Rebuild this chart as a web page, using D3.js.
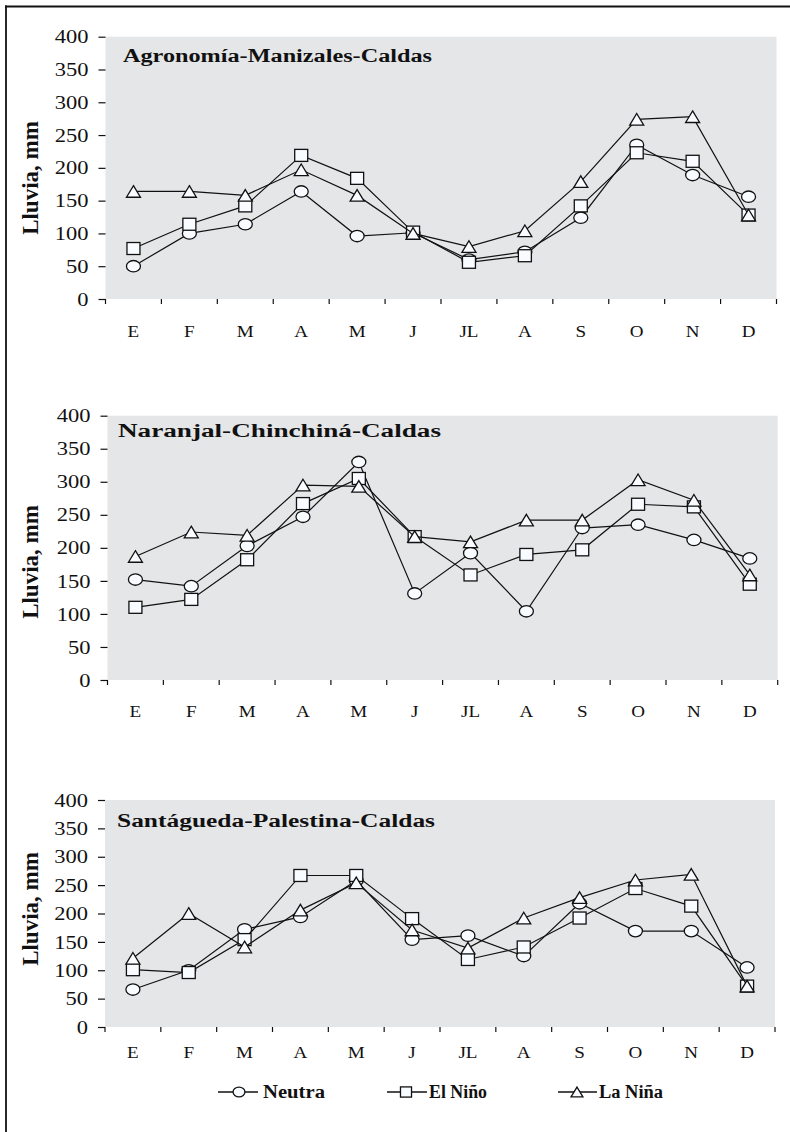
<!DOCTYPE html>
<html><head><meta charset="utf-8">
<script src="https://cdn.jsdelivr.net/npm/d3@7"></script>
<style>
html,body{margin:0;padding:0;background:#fff;}
svg{display:block;}
text{font-family:"Liberation Serif","Times New Roman",serif;fill:#111;}
</style></head>
<body>
<svg id="chart" width="790" height="1132"></svg>
<script>
// ---- data ----
const months = ["E","F","M","A","M","J","JL","A","S","O","N","D"];
const stations = ["Agronomía-Manizales-Caldas","Naranjal-Chinchiná-Caldas","Santágueda-Palestina-Caldas"];
const seriesNames = ["Neutra","El Niño","La Niña"];
const yTicks = [0,50,100,150,200,250,300,350,400];
const yLabel = "Lluvia, mm";

const neutra1 = [50,100,114,164,96,101,60,72,124,235,189,156];
const nino1   = [77,114,142,219,184,102,56,66,142,223,210,128];
const nina1   = [164,164,158,197,158,100,80,104,179,274,278,128];

const neutra2 = [152,142,203,247,330,131,192,104,230,235,212,184];
const nino2   = [110,122,182,267,305,217,159,190,197,266,262,145];
const nina2   = [187,224,219,295,293,217,209,242,242,303,272,159];

const neutra3 = [66,100,172,194,258,154,161,125,218,169,169,105];
const nino3   = [101,96,154,267,267,191,119,141,192,244,213,72];
const nina3   = [121,200,141,206,254,171,139,192,228,259,269,72];

const panelData = [
  [neutra1, nino1, nina1],
  [neutra2, nino2, nina2],
  [neutra3, nino3, nina3]
];

// ---- layout ----
const layout = [
  {x0:105.5, x1:776.5, yTop:36.7, yBot:299, titleX:123, titleY:62, titleW:309, labelY:178, monthDy:38},
  {x0:107.5, x1:777.7, yTop:415.7, yBot:680, titleX:118, titleY:437, titleW:323, labelY:562, monthDy:37},
  {x0:105,   x1:775,   yTop:800,  yBot:1027, titleX:117, titleY:827, titleW:318, labelY:909, monthDy:31}
];

const svg = d3.select("#chart");
const HSTRETCH = 1.22;

function stretch(sel, f){
  sel.each(function(){
    const l = this.getComputedTextLength();
    this.setAttribute("textLength", l*f);
    this.setAttribute("lengthAdjust","spacingAndGlyphs");
  });
}

// border (top + left)
svg.append("line").attr("x1",5).attr("x2",790).attr("y1",6.5).attr("y2",6.5)
  .attr("stroke","#111").attr("stroke-width",1.8);
svg.append("line").attr("x1",6).attr("x2",6).attr("y1",5.6).attr("y2",1132)
  .attr("stroke","#111").attr("stroke-width",1.8);

const markerFill = "#f8fbff";

function drawMarker(g, type, cx, cy, s){
  s = s || 1;
  if(type===0){
    g.append("ellipse").attr("cx",cx).attr("cy",cy).attr("rx",7*s).attr("ry",5.7*s)
      .attr("fill",markerFill).attr("stroke","#111").attr("stroke-width",1.3);
  } else if(type===1){
    g.append("rect").attr("x",cx-6.5*s).attr("y",cy-6*s).attr("width",13*s).attr("height",12*s)
      .attr("fill",markerFill).attr("stroke","#111").attr("stroke-width",1.3);
  } else {
    const w=7*s, h=5.8*s;
    g.append("path").attr("d",`M${cx},${cy-h}L${cx+w},${cy+h}L${cx-w},${cy+h}Z`)
      .attr("fill",markerFill).attr("stroke","#111").attr("stroke-width",1.3).attr("stroke-linejoin","miter");
  }
}

layout.forEach((L, pi) => {
  const g = svg.append("g");
  const x = d3.scaleBand().domain(d3.range(months.length)).range([L.x0, L.x1]);
  const y = d3.scaleLinear().domain([0,400]).range([L.yBot, L.yTop]);

  // plot background
  g.append("rect").attr("x",L.x0).attr("y",y(400)).attr("width",L.x1-L.x0).attr("height",y(0)-y(400))
    .attr("fill","#e5e6e8");

  // y axis
  const ya = g.append("g").attr("transform",`translate(${L.x0},0)`)
    .call(d3.axisLeft(y).tickValues(yTicks).tickSize(7).tickPadding(10).tickSizeOuter(0));
  ya.select(".domain").remove();
  ya.selectAll(".tick line").attr("stroke","#111").attr("stroke-width",1.2);
  ya.selectAll(".tick text").attr("font-size",18).attr("fill","#111")
    .style("font-family",'"Liberation Serif","Times New Roman",serif').attr("dy","0.34em");
  stretch(ya.selectAll(".tick text"), 1.25);

  // x ticks at category boundaries
  const bounds = d3.range(months.length).map(i => x(i)).concat([x.range()[1]]);
  g.selectAll(".xt").data(bounds).enter().append("line")
    .attr("x1",d=>d).attr("x2",d=>d).attr("y1",y(0)).attr("y2",y(0)+5)
    .attr("stroke","#111").attr("stroke-width",1.2);

  // month labels
  const ml = g.selectAll(".ml").data(months).enter().append("text")
    .attr("x",(d,i)=>x(i)+x.bandwidth()/2).attr("y",y(0)+L.monthDy)
    .attr("text-anchor","middle").attr("font-size",17).text(d=>d);
  stretch(ml, 1.12);

  // title
  g.append("text").attr("x",L.titleX).attr("y",L.titleY).attr("font-size",18.6)
    .attr("font-weight","bold").attr("textLength",L.titleW).attr("lengthAdjust","spacingAndGlyphs")
    .text(stations[pi]);

  // y label
  g.append("text").attr("transform",`translate(38,${L.labelY}) rotate(-90)`)
    .attr("text-anchor","middle").attr("font-size",23).attr("font-weight","bold").text(yLabel);

  // series
  const line = d3.line().x((d,i)=>x(i)+x.bandwidth()/2).y(d=>y(d));
  panelData[pi].forEach((vals, si) => {
    const sg = g.append("g");
    sg.append("path").attr("d",line(vals)).attr("fill","none").attr("stroke","#111").attr("stroke-width",1.2);
    vals.forEach((v,i) => drawMarker(sg, si, x(i)+x.bandwidth()/2, y(v)));
  });
});

// legend
const legendItems = [
  {lx0:218, lx1:258, mx:239, tx:263, tw:62},
  {lx0:387, lx1:427, mx:406, tx:429, tw:58},
  {lx0:558, lx1:597, mx:577, tx:599, tw:64}
];
const lg = svg.append("g");
seriesNames.forEach((name, i) => {
  const it = legendItems[i];
  lg.append("line").attr("x1",it.lx0).attr("x2",it.lx1).attr("y1",1092).attr("y2",1092)
    .attr("stroke","#111").attr("stroke-width",1.3);
  drawMarker(lg, i, it.mx, 1092, 0.85);
  lg.append("text").attr("x",it.tx).attr("y",1097.5).attr("font-size",18.6).attr("font-weight","bold")
    .attr("textLength",it.tw).attr("lengthAdjust","spacingAndGlyphs").text(name);
});
</script>
</body></html>
